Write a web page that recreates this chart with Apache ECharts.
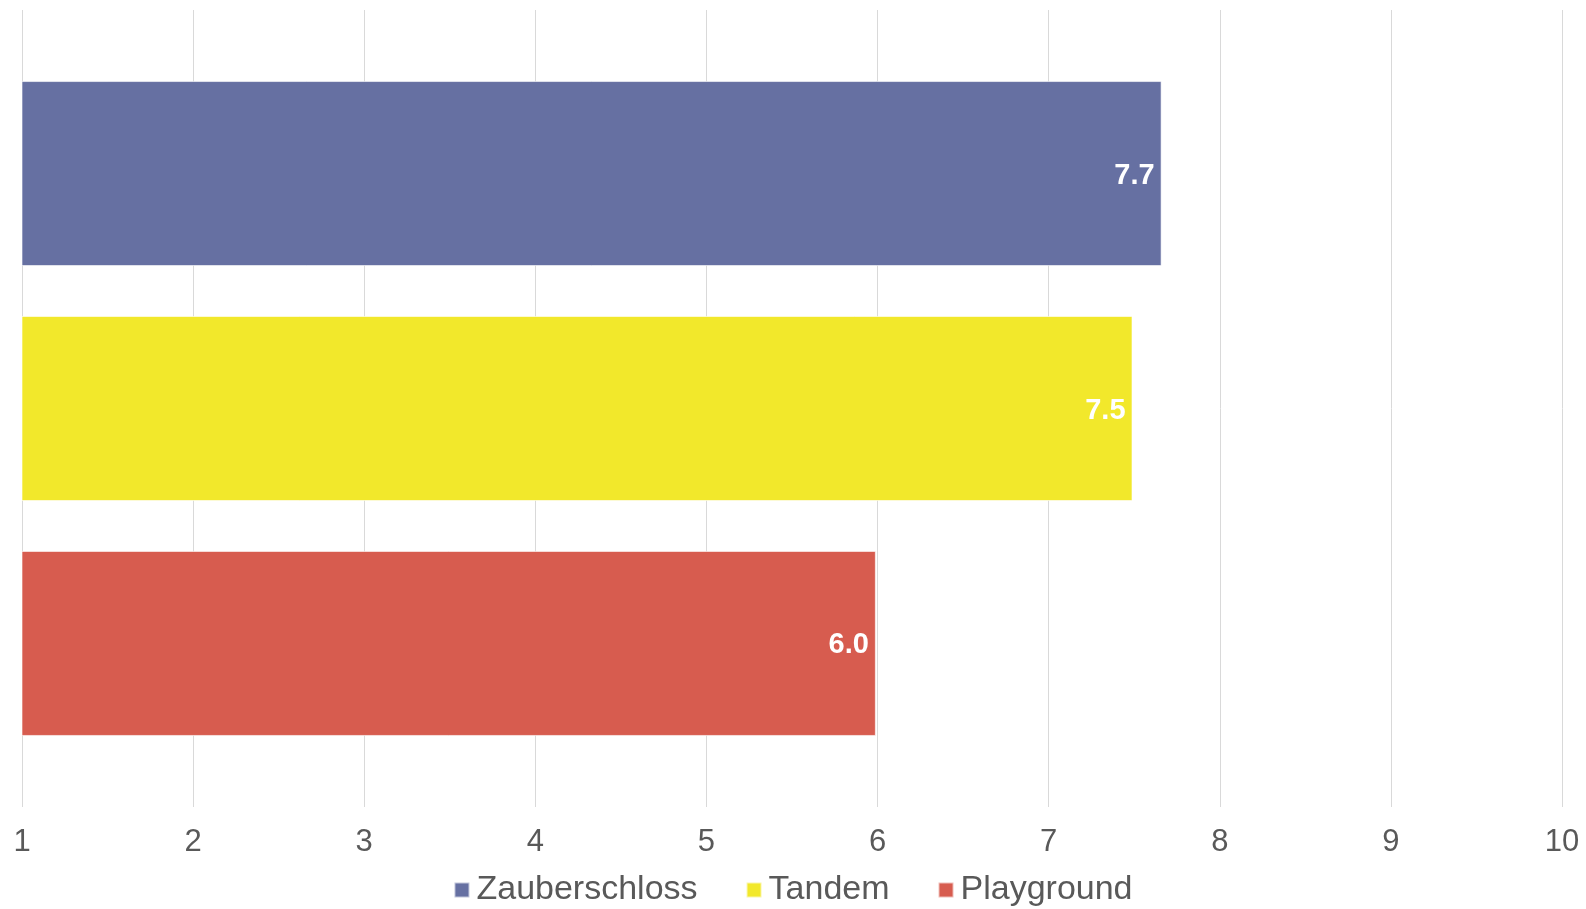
<!DOCTYPE html>
<html lang="en">
  <head>
    <meta charset="UTF-8" />
    <title>Bewertung</title>
    <style>
      html,
      body {
        margin: 0;
        padding: 0;
        background: #ffffff;
      }
      #chart-container {
        width: 1586px;
        height: 909px;
      }
    </style>
    <script src="https://cdn.jsdelivr.net/npm/echarts@6/dist/echarts.min.js"></script>
  </head>
  <body>
    <div id="chart-container"></div>
    <script>
      // values
      let seriesNames = ["Zauberschloss", "Tandem", "Playground"];
      let seriesValues = [7.66, 7.49, 5.99];
      let seriesColors = ["#6670a2", "#f2e82b", "#d75c4f"];
      let categories = [""];
      let axisMin = 1;
      let axisMax = 10;
      let axisStep = 1;

      let fontName = "'Liberation Sans', Arial, sans-serif";

      let series = [];
      for (let i = 0; i < seriesNames.length; i++) {
        series.push({
          name: seriesNames[i],
          type: "bar",
          data: [seriesValues[i]],
          barWidth: 185,
          barGap: "27%",
          itemStyle: {
            color: seriesColors[i],
            borderColor: "rgba(255,255,255,0.6)",
            borderWidth: 1,
          },
          label: {
            show: true,
            position: "insideRight",
            distance: 7,
            offset: [0, 2],
            color: "#ffffff",
            fontFamily: fontName,
            fontWeight: "bold",
            fontSize: 29,
            formatter: function (p) {
              return p.value.toFixed(1);
            },
          },
        });
      }

      let dom = document.getElementById("chart-container");
      let myChart = echarts.init(dom, null, { renderer: "canvas" });
      let option = {
        animation: false,
        color: seriesColors,
        grid: { left: 22, right: 24, top: 10, bottom: 102, containLabel: false },
        legend: {
          data: seriesNames,
          left: "center",
          top: 868,
          icon: "rect",
          itemWidth: 15,
          itemHeight: 15,
          itemGap: 48,
          textStyle: {
            fontFamily: fontName,
            fontSize: 34,
            color: "#595959",
            padding: [0, 0, 0, 2],
          },
        },
        xAxis: {
          type: "value",
          min: axisMin,
          max: axisMax,
          interval: axisStep,
          axisLine: { show: false },
          axisTick: { show: false },
          splitLine: { show: true, lineStyle: { color: "#d9d9d9", width: 1 } },
          axisLabel: {
            margin: 20,
            fontFamily: fontName,
            fontSize: 31,
            color: "#595959",
          },
        },
        yAxis: {
          type: "category",
          data: categories,
          inverse: true,
          axisLine: { show: false },
          axisTick: { show: false },
          axisLabel: { show: false },
          splitLine: { show: false },
        },
        series: series,
      };
      myChart.setOption(option);
    </script>
  </body>
</html>
